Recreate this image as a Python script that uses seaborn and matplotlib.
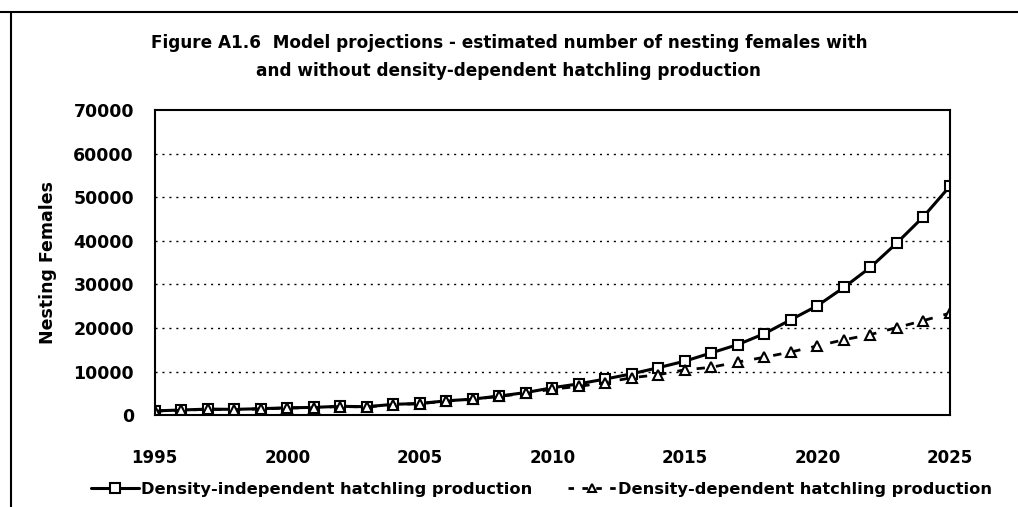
import pandas as pd
import matplotlib.pyplot as plt
import matplotlib.lines as mlines
import seaborn as sns

years = list(range(1995, 2026))

independent = [1000, 1200, 1400, 1350, 1500, 1700, 1800, 2050, 1950, 2500,
               2700, 3300, 3700, 4400, 5200, 6300, 7200, 8300, 9500, 10900,
               12400, 14300, 16200, 18700, 21900, 25100, 29300, 33900, 39500,
               45500, 52500]

dependent = [950, 1150, 1350, 1300, 1450, 1650, 1750, 2000, 1900, 2450,
             2650, 3250, 3650, 4350, 5000, 6000, 6600, 7500, 8600, 9300,
             10400, 11000, 12200, 13300, 14500, 15900, 17300, 18500, 20100,
             21700, 23400]

label_ind = "Density-independent hatchling production"
label_dep = "Density-dependent hatchling production"
title = ("Figure A1.6  Model projections - estimated number of nesting females with\n"
         "and without density-dependent hatchling production")

df = pd.DataFrame({"year": years, "ind": independent, "dep": dependent})

sns.set_theme(style="white")
plt.rcParams["font.family"] = ["DejaVu Sans"]
plt.rcParams["font.weight"] = "bold"
plt.rcParams["text.color"] = "black"
plt.rcParams["axes.labelcolor"] = "black"
plt.rcParams["xtick.color"] = "black"
plt.rcParams["ytick.color"] = "black"

fig = plt.figure(figsize=(10.18, 5.07), dpi=100)
ax = fig.add_axes([0.152, 0.181, 0.781, 0.602])

sns.lineplot(data=df, x="year", y="ind", ax=ax, color="black", linewidth=2.2,
             marker="s", markersize=7, markerfacecolor="white",
             markeredgecolor="black", markeredgewidth=1.5)
sns.lineplot(data=df, x="year", y="dep", ax=ax, color="black", linewidth=2,
             linestyle=(0, (3, 4)), marker="^", markersize=6.5,
             markerfacecolor="white", markeredgecolor="black",
             markeredgewidth=1.5)

ax.set_xlim(1995, 2025)
ax.set_ylim(0, 70000)
ax.set_xticks(range(1995, 2026, 5))
ax.set_xticks(years, minor=True)
ax.set_yticks(range(0, 70001, 10000))
ax.tick_params(axis="x", which="both", direction="out", length=6, width=1.3,
               color="black", labelsize=12, pad=18)
ax.tick_params(axis="y", direction="inout", length=10, width=1.3,
               color="black", labelsize=12.5, pad=10)
for lab in ax.get_xticklabels() + ax.get_yticklabels():
    lab.set_fontweight("bold")
    lab.set_color("black")

for y in range(10000, 70000, 10000):
    ax.axhline(y, color="black", linewidth=1, linestyle=(0, (1.5, 3.5)), zorder=0)

for sp in ax.spines.values():
    sp.set_color("black")
    sp.set_linewidth(1.5)

ax.set_xlabel("")
ax.set_ylabel("Nesting Females", fontsize=12.5, fontweight="bold", labelpad=12,
              color="black")

fig.text(0.5, 0.888, title, ha="center", va="center", fontsize=12.2,
         fontweight="bold", linespacing=1.75, color="black")

h1 = mlines.Line2D([], [], color="black", linewidth=2.2, marker="s",
                   markersize=7, markerfacecolor="white", markeredgewidth=1.5)
h2 = mlines.Line2D([], [], color="black", linewidth=2, linestyle=(0, (2, 3)),
                   marker="^", markersize=6, markerfacecolor="white",
                   markeredgewidth=1.5)
fig.legend([h1, h2], [label_ind, label_dep], loc="center",
           bbox_to_anchor=(0.532, 0.035), ncol=2, frameon=False,
           handlelength=3, handletextpad=0.1, columnspacing=2.2,
           prop={"size": 11.7, "weight": "bold"}, labelcolor="black")

# page frame lines
fig.add_artist(mlines.Line2D([0.0, 1.0], [0.977, 0.977], color="black",
                             linewidth=1.5, transform=fig.transFigure))
fig.add_artist(mlines.Line2D([0.011, 0.011], [0.0, 0.977], color="black",
                             linewidth=1.5, transform=fig.transFigure))

fig.savefig("out.png", dpi=100)
